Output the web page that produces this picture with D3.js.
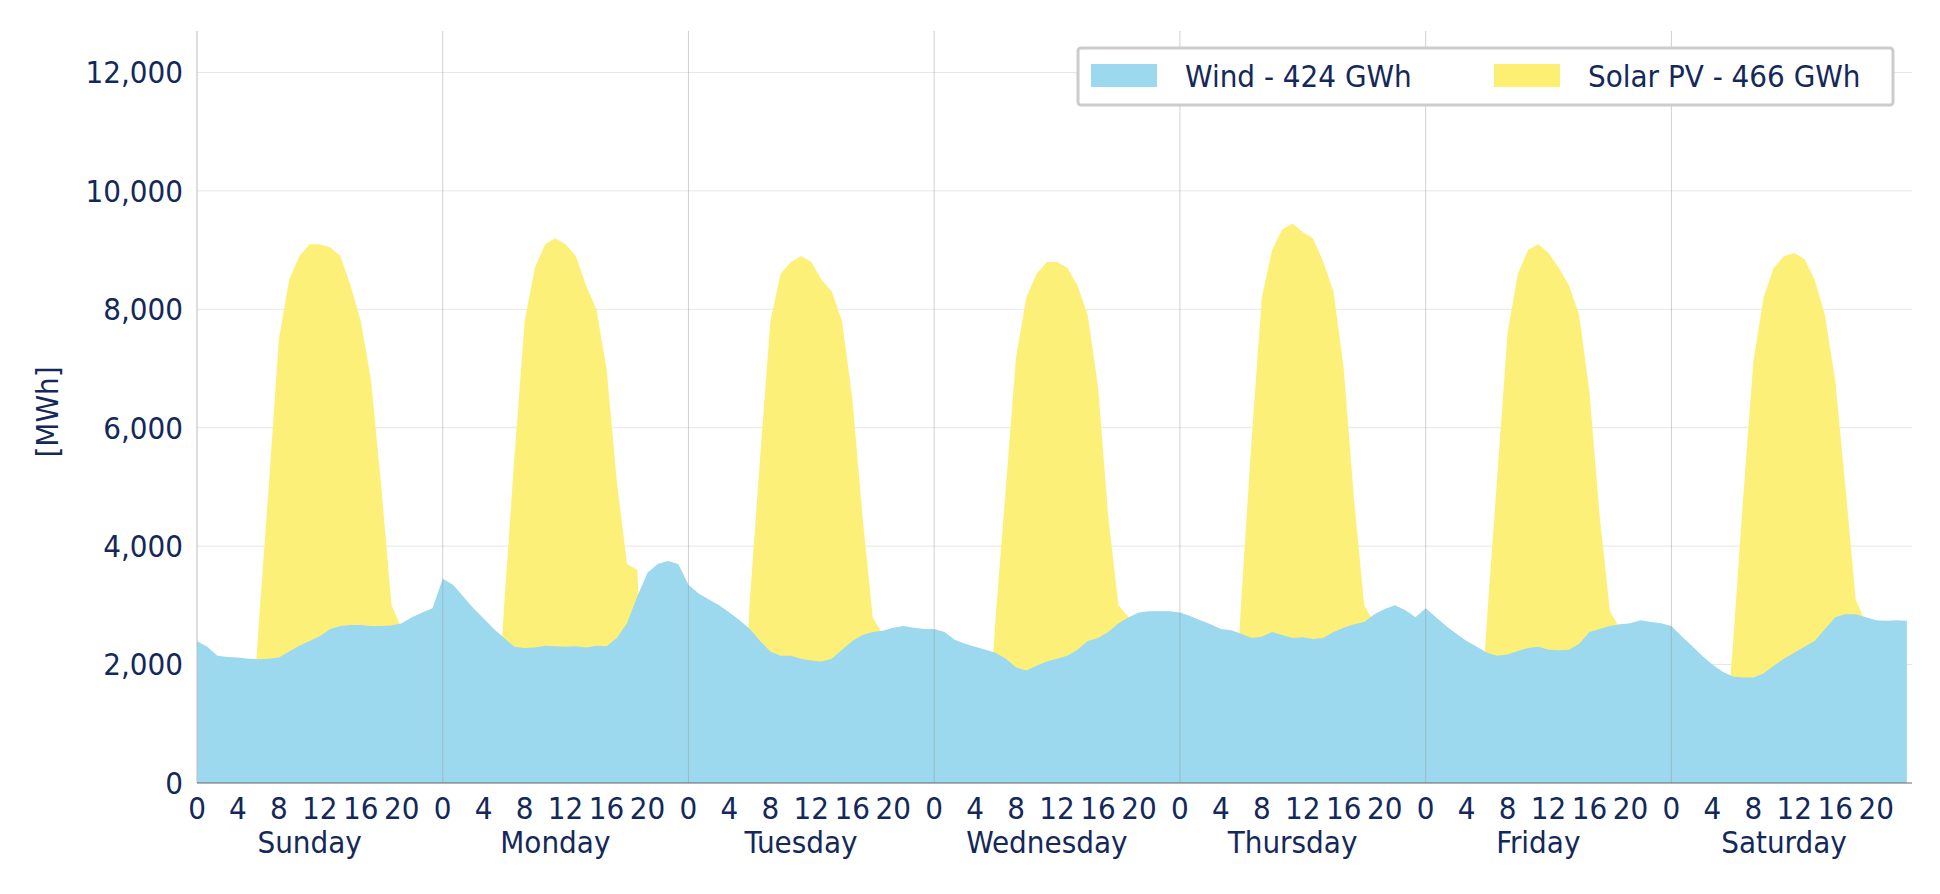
<!DOCTYPE html>
<html><head><meta charset="utf-8">
<script src="https://cdn.jsdelivr.net/npm/d3@7"></script>
<style>body{margin:0;background:#fff}text{font-family:"DejaVu Sans Condensed","DejaVu Sans",Verdana,sans-serif;fill:#14285a}</style>
</head><body><svg id="c" width="1940" height="894"></svg>
<script>
const days=["Sunday","Monday","Tuesday","Wednesday","Thursday","Friday","Saturday"];
const hourTicks=[0,4,8,12,16,20];
const yTicks=[0,2000,4000,6000,8000,10000,12000];
const windLabel="Wind - 424 GWh", solarLabel="Solar PV - 466 GWh";
const wind=[
2400,2300,2150,2130,2120,2100,2090,2100,2120,2220,2320,2400,2480,2600,2650,2670,2670,2650,2650,2660,2700,2800,2880,2950,
3450,3350,3150,2950,2780,2600,2450,2300,2280,2290,2320,2310,2300,2310,2290,2320,2310,2450,2700,3150,3550,3700,3750,3700,
3350,3200,3100,3000,2880,2750,2600,2400,2220,2150,2150,2100,2070,2050,2100,2250,2400,2500,2550,2570,2620,2650,2620,2600,
2600,2550,2420,2350,2300,2250,2200,2100,1950,1900,1980,2050,2100,2150,2250,2400,2450,2550,2700,2800,2880,2900,2900,2900,
2880,2820,2750,2680,2600,2580,2520,2450,2470,2550,2500,2450,2460,2430,2450,2550,2620,2680,2720,2850,2940,3000,2920,2800,
2950,2800,2650,2520,2400,2300,2200,2150,2170,2230,2280,2300,2250,2240,2250,2350,2550,2600,2650,2680,2700,2750,2720,2700,
2650,2480,2320,2150,2000,1880,1800,1780,1780,1850,1980,2100,2200,2300,2400,2600,2800,2850,2850,2800,2750,2740,2750,2740];
const solar=[
0,0,0,0,0,100,2600,5000,7500,8500,8900,9100,9100,9050,8900,8400,7800,6800,5000,3000,2600,0,0,0,
0,0,0,0,0,200,3000,5500,7800,8700,9100,9200,9100,8900,8400,8000,7000,5100,3700,3600,0,0,0,0,
0,0,0,0,0,200,3100,5500,7800,8600,8800,8900,8800,8500,8300,7800,6500,4500,2800,2500,0,0,0,0,
0,0,0,0,0,200,2800,5000,7200,8200,8600,8800,8800,8700,8400,7900,6700,4500,3000,2800,0,0,0,0,
0,0,0,0,0,200,3100,5800,8200,9000,9350,9450,9300,9200,8800,8300,7000,4800,3000,2700,0,0,0,0,
0,0,0,0,0,200,2800,5200,7600,8600,9000,9100,8950,8700,8400,7900,6600,4500,2900,2600,0,0,0,0,
0,0,0,0,0,200,2300,4800,7100,8200,8700,8900,8950,8850,8500,7900,6800,5000,3100,2700,0,0,0,0];
const svg=d3.select("#c");
const L=197,R=1912,T=31,B=783;
const x=d3.scaleLinear().domain([0,167.5]).range([L,R]);
const y=d3.scaleLinear().domain([0,12700]).range([B,T]);
const g=svg.append("g");
yTicks.slice(1).forEach(t=>g.append("line").attr("x1",L).attr("x2",R).attr("y1",y(t)).attr("y2",y(t)).attr("stroke","#e6e6e6"));
const area=d=>d3.area().x((v,i)=>x(i)).y0(y(0)).y1(v=>y(v))(d);
g.append("path").attr("d",area(solar)).attr("fill","#fdef72").attr("opacity",0.95);
g.append("path").attr("d",area(wind)).attr("fill","#9cd8ee");
days.forEach((d,i)=>{ if(i>0) g.append("line").attr("x1",x(i*24)).attr("x2",x(i*24)).attr("y1",T).attr("y2",B).attr("stroke","#999").attr("stroke-opacity",0.45);});
g.append("line").attr("x1",L).attr("x2",L).attr("y1",T).attr("y2",B).attr("stroke","#bbb");
g.append("line").attr("x1",L).attr("x2",R).attr("y1",B).attr("y2",B).attr("stroke","#666");
const fs=31;
yTicks.forEach(t=>g.append("text").attr("x",L-14).attr("y",y(t)).attr("dy","0.35em").attr("text-anchor","end").attr("font-size",fs).text(d3.format(",")(t)));
days.forEach((d,i)=>{
 hourTicks.forEach(h=>g.append("text").attr("x",x(i*24+h)).attr("y",B+36).attr("text-anchor","middle").attr("font-size",fs).text(h));
 g.append("text").attr("x",x(i*24+11)).attr("y",B+70).attr("text-anchor","middle").attr("font-size",fs).text(d);
});
g.append("text").attr("transform",`translate(58,${(T+B)/2+5}) rotate(-90)`).attr("text-anchor","middle").attr("font-size",fs).text("[MWh]");
const lg=g.append("g");
lg.append("rect").attr("x",1078).attr("y",48).attr("width",815).attr("height",57).attr("fill","#fff").attr("stroke","#ccc").attr("stroke-width",3).attr("rx",3);
lg.append("rect").attr("x",1091).attr("y",64).attr("width",66).attr("height",23).attr("fill","#9cd8ee");
lg.append("text").attr("x",1185).attr("y",76).attr("dy","0.35em").attr("font-size",fs).text(windLabel);
lg.append("rect").attr("x",1494).attr("y",64).attr("width",66).attr("height",23).attr("fill","#fdef72");
lg.append("text").attr("x",1588).attr("y",76).attr("dy","0.35em").attr("font-size",fs).text(solarLabel);
</script></body></html>
